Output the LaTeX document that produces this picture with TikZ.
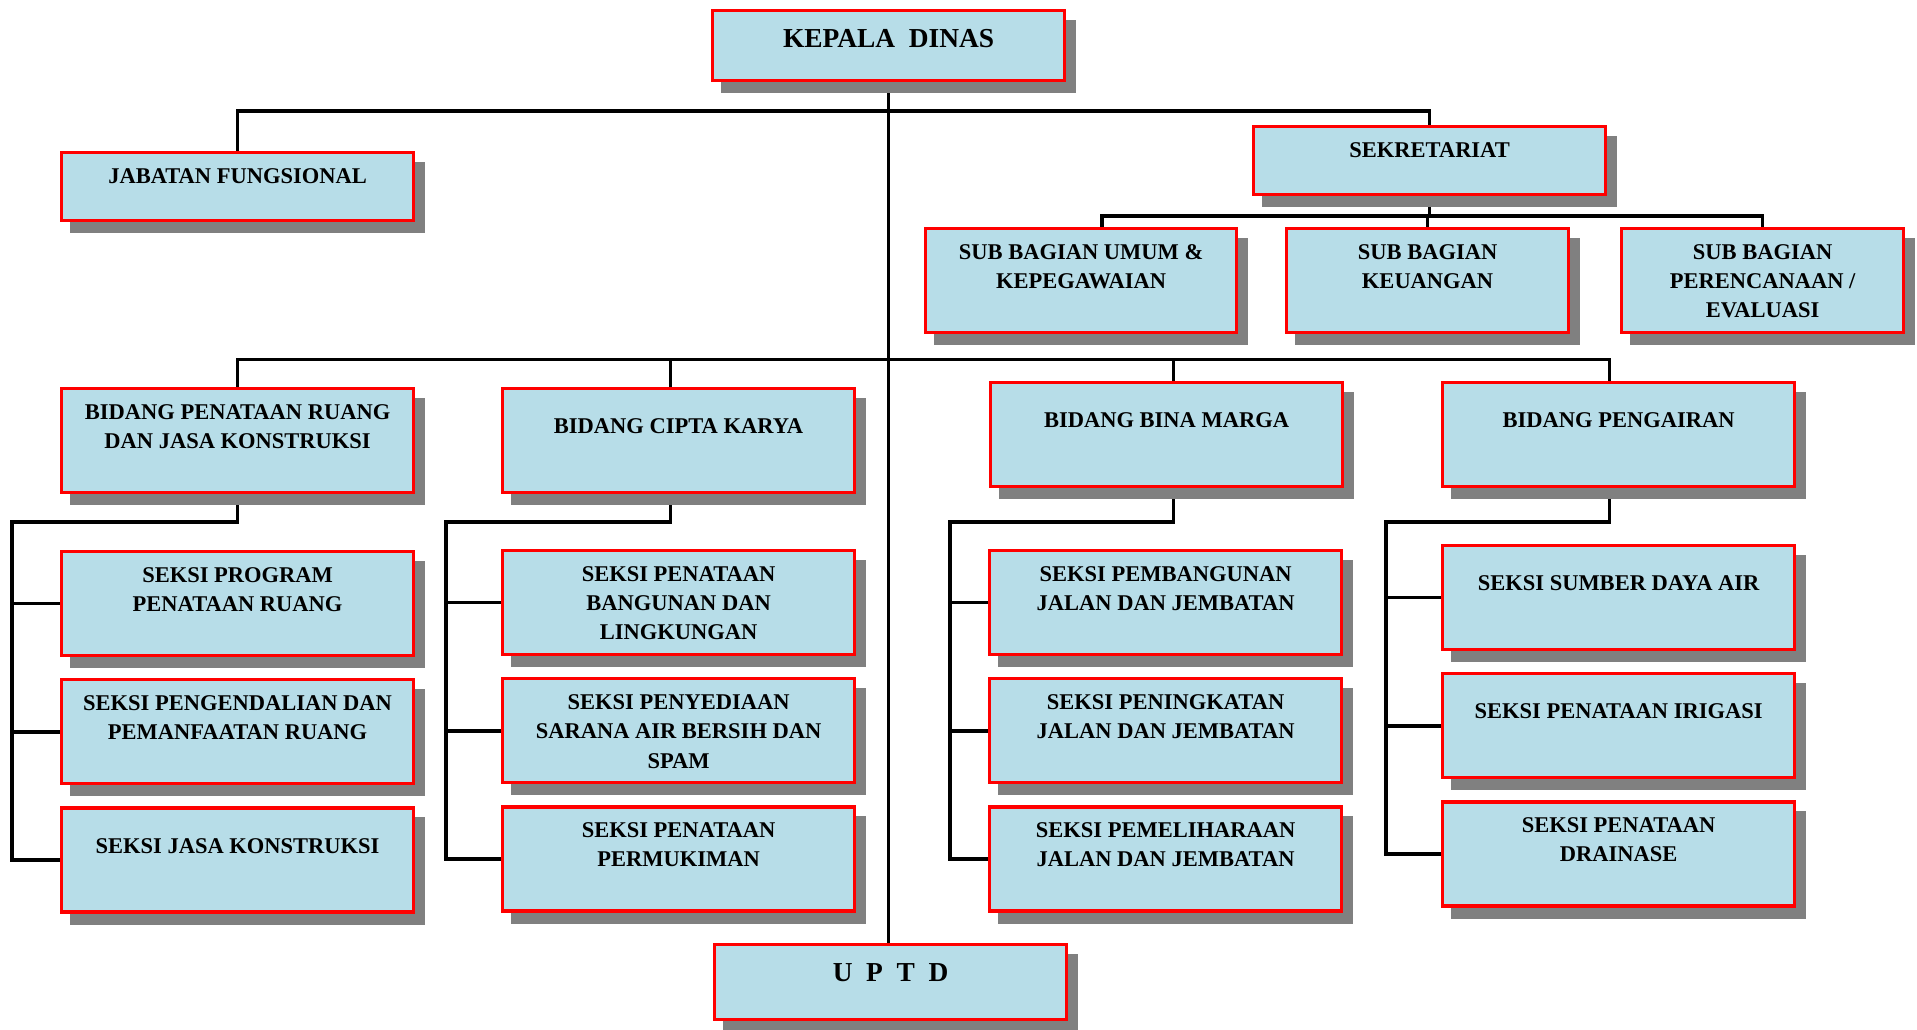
\documentclass[tikz,border=0pt]{standalone}
\usepackage{fontspec}
\setmainfont{Liberation Serif}
\usetikzlibrary{calc, positioning}
\usetikzlibrary{shadows, backgrounds}

\definecolor{boxblue}{HTML}{B7DDE8}
\definecolor{boxred}{HTML}{FF0000}
\definecolor{shadowgray}{HTML}{808080}

\begin{document}
\begin{tikzpicture}[
    x=1pt,
    y=-1pt,
    unit/.style={draw=boxred, line width=3.2pt, fill=boxblue, anchor=north west,
        inner sep=0pt, minimum width=352pt, minimum height=104pt,
        drop shadow={shadow xshift=10pt, shadow yshift=-11pt, opacity=1,
            fill=shadowgray, draw=shadowgray}},
    caption/.style={anchor=north, align=center, inner sep=0pt, yshift=-17pt,
        font=\bfseries\fontsize{22.5}{29.4}\selectfont},
    low/.style={caption, yshift=-14.5pt},
    big/.style={caption, yshift=-3pt, font=\bfseries\fontsize{27.4}{33}\selectfont},
    link/.style={line width=3.6pt, black}
]
\useasboundingbox (0,0) rectangle (1917,1029);

% Top level
\node[unit, minimum height=70pt, label={[big]north:KEPALA\ \ DINAS}] (kd) at (711,9) {};
\node[unit, minimum height=68pt, label={[caption]north:JABATAN FUNGSIONAL}] (jf) at (60,151) {};
\node[unit, minimum height=68pt, label={[caption]north:SEKRETARIAT}] (sek) at (1252,125) {};

% Sub bagian
\node[unit, minimum width=311pt, label={[caption]north:SUB BAGIAN UMUM \&\\KEPEGAWAIAN}] (sbu) at (924,227) {};
\node[unit, minimum width=282pt, label={[caption]north:SUB BAGIAN\\KEUANGAN}] (sbk) at (1285,227) {};
\node[unit, minimum width=282pt, label={[caption]north:SUB BAGIAN\\PERENCANAAN /\\EVALUASI}] (sbp) at (1620,227) {};

% Bidang
\node[unit, label={[caption]north:BIDANG PENATAAN RUANG\\DAN JASA KONSTRUKSI}] (bpr) at (60,387) {};
\node[unit, label={[low]north:BIDANG CIPTA KARYA}] (bck) at (501,387) {};
\node[unit, label={[low]north:BIDANG BINA MARGA}] (bbm) at (989,381) {};
\node[unit, label={[low]north:BIDANG PENGAIRAN}] (bpg) at (1441,381) {};

% Seksi
\node[unit, label={[caption]north:SEKSI PROGRAM\\PENATAAN RUANG}] (s11) at (60,550) {};
\node[unit, below=21pt of s11, label={[caption]north:SEKSI PENGENDALIAN DAN\\PEMANFAATAN RUANG}] (s12) {};
\node[unit, below=21pt of s12, label={[low]north:SEKSI JASA KONSTRUKSI}] (s13) {};

\node[unit, label={[caption]north:SEKSI PENATAAN\\BANGUNAN DAN\\LINGKUNGAN}] (s21) at (501,549) {};
\node[unit, below=21pt of s21, label={[caption]north:SEKSI PENYEDIAAN\\SARANA AIR BERSIH DAN\\SPAM}] (s22) {};
\node[unit, below=21pt of s22, label={[caption]north:SEKSI PENATAAN\\PERMUKIMAN}] (s23) {};

\node[unit, label={[caption]north:SEKSI PEMBANGUNAN\\JALAN DAN JEMBATAN}] (s31) at (988,549) {};
\node[unit, below=21pt of s31, label={[caption]north:SEKSI PENINGKATAN\\JALAN DAN JEMBATAN}] (s32) {};
\node[unit, below=21pt of s32, label={[caption]north:SEKSI PEMELIHARAAN\\JALAN DAN JEMBATAN}] (s33) {};

\node[unit, label={[low]north:SEKSI SUMBER DAYA AIR}] (s41) at (1441,544) {};
\node[unit, below=21pt of s41, label={[low]north:SEKSI PENATAAN IRIGASI}] (s42) {};
\node[unit, below=21pt of s42, label={[caption]north:SEKSI PENATAAN\\DRAINASE}] (s43) {};

\node[unit, minimum height=75pt, label={[big]north:U\ \ P\ \ T\ \ D}] (up) at (713,943) {};

% Connectors
\begin{scope}[on background layer]
\coordinate (b1) at (888.5,111);
\coordinate (b3) at (888.5,359.5);
\path (sek.south) ++(0,20) coordinate (b2);

\draw[link] (kd.south) -- (kd.south |- up.north);
\draw[link] (jf.north) |- (b1) -| (sek.north);

\draw[link] (sek.south) -- (b2);
\draw[link] ($(sbu.north)+(21,0)$) |- (b2) -| (sbp.north);
\draw[link] (b2) -| (sbk.north);

\coordinate (d2) at ($(bck.north)+(-8,0)$);
\coordinate (d3) at ($(bbm.north)+(7,0)$);
\coordinate (d4) at ($(bpg.north)+(-9,0)$);
\draw[link] (bpr.north) |- (b3) -| (d4);
\draw[link] (d2) |- (b3);
\draw[link] (d3) |- (b3);

\coordinate (sp1) at (12,522);
\draw[link] (bpr.south) |- (sp1) |- (s13.west);
\draw[link] (sp1) |- (s11.west);
\draw[link] (sp1) |- (s12.west);

\coordinate (sp2) at (446,522);
\draw[link] (d2 |- bck.south) |- (sp2) |- (s23.west);
\draw[link] (sp2) |- (s21.west);
\draw[link] (sp2) |- (s22.west);

\coordinate (sp3) at (950,522);
\draw[link] (d3 |- bbm.south) |- (sp3) |- (s33.west);
\draw[link] (sp3) |- (s31.west);
\draw[link] (sp3) |- (s32.west);

\coordinate (sp4) at (1386,522);
\draw[link] (d4 |- bpg.south) |- (sp4) |- (s43.west);
\draw[link] (sp4) |- (s41.west);
\draw[link] (sp4) |- (s42.west);
\end{scope}
\end{tikzpicture}
\end{document}
